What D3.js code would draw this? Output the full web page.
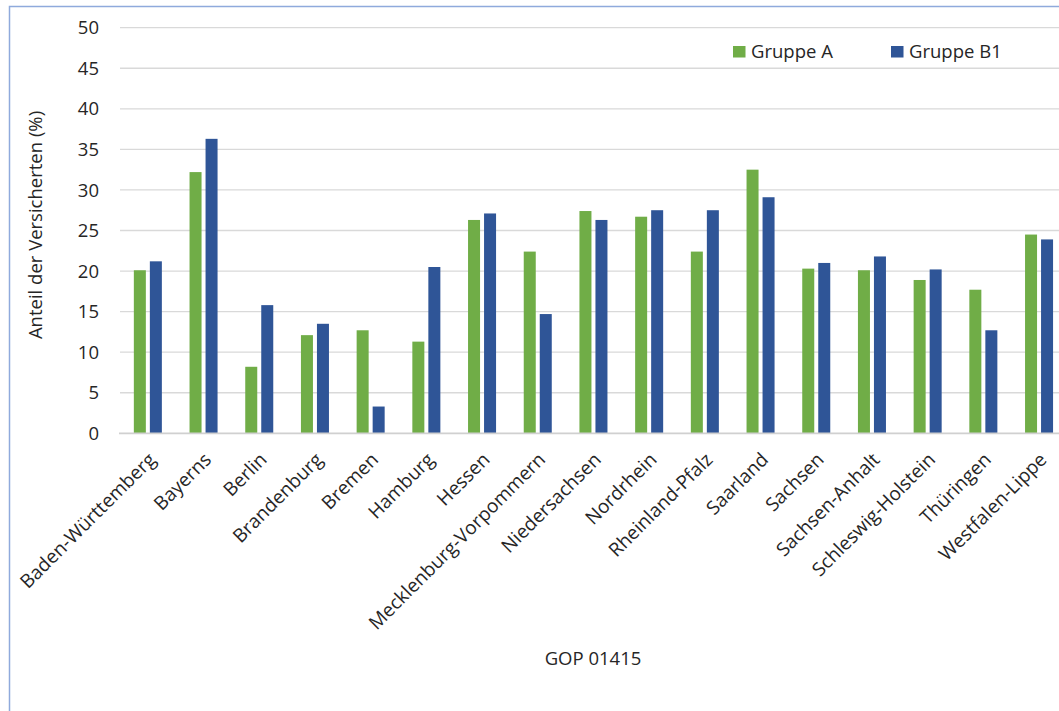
<!DOCTYPE html>
<meta charset="utf-8">
<title>GOP 01415</title>
<script src="https://d3js.org/d3.v7.min.js"></script>
<body style="margin:0;background:#fff">
<div id="chart"></div>
</body>
<script>
  // data
  var laender = ["Baden-Württemberg","Bayerns","Berlin","Brandenburg","Bremen","Hamburg","Hessen",
    "Mecklenburg-Vorpommern","Niedersachsen","Nordrhein","Rheinland-Pfalz","Saarland","Sachsen",
    "Sachsen-Anhalt","Schleswig-Holstein","Thüringen","Westfalen-Lippe"]
  var gruppeA  = [20.1, 32.2, 8.2, 12.1, 12.7, 11.3, 26.3, 22.4, 27.4, 26.7, 22.4, 32.5, 20.3, 20.1, 18.9, 17.7, 24.5]
  var gruppeB1 = [21.2, 36.3, 15.8, 13.5, 3.3, 20.5, 27.1, 14.7, 26.3, 27.5, 27.5, 29.1, 21.0, 21.8, 20.2, 12.7, 23.9]
  var series = ["Gruppe A", "Gruppe B1"]
  var yTicks = [0, 5, 10, 15, 20, 25, 30, 35, 40, 45, 50]

  var W = 1059, H = 711
  var font = "'Open Sans', sans-serif"
  var textCol = "#262626"

  var svg = d3.select("#chart").append("svg")
    .attr("width", W)
    .attr("height", H)
    .style("display", "block")

  // outer chart border (right / bottom run off the picture)
  svg.append("rect")
    .attr("x", 9.5).attr("y", 6.5)
    .attr("width", 1200).attr("height", 900)
    .attr("fill", "none")
    .attr("stroke", "#8faadc")
    .attr("stroke-width", 1.5)

  var step = 55.7
  var x0 = d3.scaleBand()
    .domain(laender)
    .range([120, 120 + laender.length * step])
    .paddingInner(0.497)
    .paddingOuter(0.2485)

  var x1 = d3.scaleBand()
    .domain(series)
    .range([0, x0.bandwidth()])
    .paddingInner(0.25)

  var y = d3.scaleLinear()
    .domain([0, 50])
    .range([433.3, 27.7])

  var color = d3.scaleOrdinal()
    .domain(series)
    .range(["#70ad47", "#2f5597"])

  // gridlines + y tick labels
  svg.append("g")
    .selectAll("line")
    .data(yTicks.filter(d => d > 0))
    .join("line")
    .attr("x1", 120).attr("x2", W)
    .attr("y1", d => y(d)).attr("y2", d => y(d))
    .attr("stroke", "#d9d9d9")
    .attr("stroke-width", 1.3)

  svg.append("g")
    .selectAll("text")
    .data(yTicks)
    .join("text")
    .attr("x", 99)
    .attr("y", d => y(d))
    .attr("dy", "0.36em")
    .attr("text-anchor", "end")
    .attr("font-family", font)
    .attr("font-size", "18.5px")
    .attr("fill", textCol)
    .text(d => d)

  // bars
  var rows = laender.map((l, i) => ({land: l, values: [gruppeA[i], gruppeB1[i]]}))

  svg.append("g")
    .selectAll("g")
    .data(rows)
    .join("g")
    .attr("transform", d => "translate(" + x0(d.land) + ",0)")
    .selectAll("rect")
    .data(d => d.values.map((v, k) => ({key: series[k], value: v})))
    .join("rect")
    .attr("x", d => x1(d.key))
    .attr("y", d => y(d.value))
    .attr("width", x1.bandwidth())
    .attr("height", d => y(0) - y(d.value))
    .attr("fill", d => color(d.key))

  // baseline
  svg.append("line")
    .attr("x1", 119).attr("x2", W)
    .attr("y1", y(0)).attr("y2", y(0))
    .attr("stroke", "#d0d0d0")
    .attr("stroke-width", 1.8)

  // category labels, rotated
  svg.append("g")
    .selectAll("text")
    .data(laender)
    .join("text")
    .attr("transform", d => "translate(" + (x0(d) + x0.bandwidth() / 2 + 4) + ",456) rotate(-45)")
    .attr("text-anchor", "end")
    .attr("dy", "0.36em")
    .attr("font-family", font)
    .attr("font-size", "19px")
    .attr("fill", textCol)
    .text(d => d)

  // axis titles
  svg.append("text")
    .attr("transform", "translate(42,225) rotate(-90)")
    .attr("text-anchor", "middle")
    .attr("font-family", font)
    .attr("font-size", "18.5px")
    .attr("fill", textCol)
    .text("Anteil der Versicherten (%)")

  svg.append("text")
    .attr("x", 593)
    .attr("y", 665)
    .attr("text-anchor", "middle")
    .attr("font-family", font)
    .attr("font-size", "18.5px")
    .attr("fill", textCol)
    .text("GOP 01415")

  // legend
  var legX = [733, 891]
  var leg = svg.append("g")
    .selectAll("g")
    .data(series)
    .join("g")
    .attr("transform", (d, i) => "translate(" + legX[i] + ",46)")
  leg.append("rect")
    .attr("width", 12.5).attr("height", 11.5)
    .attr("fill", d => color(d))
  leg.append("text")
    .attr("x", 18)
    .attr("y", 12)
    .attr("font-family", font)
    .attr("font-size", "18.5px")
    .attr("fill", textCol)
    .text(d => d)
</script>
